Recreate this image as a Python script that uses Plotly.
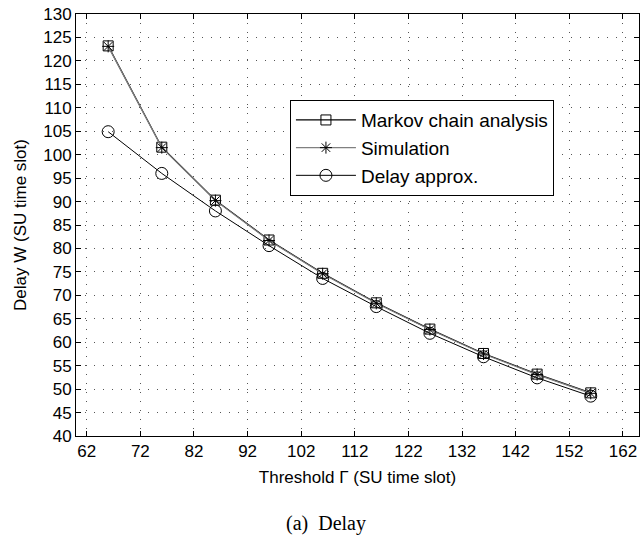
import plotly.graph_objects as go

# Threshold values (SU time slots)
threshold = [66, 76, 86, 96, 106, 116, 126, 136, 146, 156]

# Mean delay W for each method
markov_delay = [123.2, 101.6, 90.3, 81.8, 74.7, 68.4, 62.8, 57.6, 53.2, 49.2]
sim_delay = [123.1, 101.5, 90.2, 81.7, 74.6, 68.3, 62.7, 57.5, 53.1, 49.1]
approx_delay = [104.9, 96.0, 88.0, 80.6, 73.6, 67.6, 61.9, 56.9, 52.4, 48.5]

x_ticks = list(range(62, 163, 10))
y_ticks = list(range(40, 131, 5))

FONT = "Liberation Sans, Arial, sans-serif"

fig = go.Figure()
fig.add_trace(go.Scatter(
    x=threshold, y=markov_delay, name="Markov chain analysis",
    mode="lines+markers",
    line=dict(color="black", width=1.2),
    marker=dict(symbol="square-open", size=10, color="black",
                line=dict(color="black", width=1)),
))
fig.add_trace(go.Scatter(
    x=threshold, y=sim_delay, name="Simulation",
    mode="lines+markers",
    line=dict(color="#808080", width=1.2),
    marker=dict(symbol="asterisk-open", size=10, color="black",
                line=dict(color="black", width=1)),
))
fig.add_trace(go.Scatter(
    x=threshold, y=approx_delay, name="Delay approx.",
    mode="lines+markers",
    line=dict(color="black", width=1),
    marker=dict(symbol="circle-open", size=12, color="black",
                line=dict(color="black", width=1)),
))

axis_common = dict(
    showline=True, linecolor="black", linewidth=1, mirror="ticks",
    ticks="inside", ticklen=5, tickcolor="black", tickwidth=1,
    showgrid=True, gridcolor="#555555", gridwidth=1, griddash="1px,8px",
    zeroline=False,
    tickfont=dict(family=FONT, size=17, color="black"),
)

fig.update_xaxes(
    range=[60, 165], tickvals=x_ticks, ticktext=[str(v) for v in x_ticks],
    title=dict(text="Threshold Γ (SU time slot)", standoff=10,
               font=dict(family=FONT, size=17, color="black")),
    **axis_common,
)
fig.update_yaxes(
    range=[40, 130], tickvals=y_ticks, ticktext=[str(v) for v in y_ticks],
    title=dict(text="Delay W (SU time slot)", standoff=12,
               font=dict(family=FONT, size=17, color="black")),
    **axis_common,
)

fig.update_layout(
    width=642, height=542, autosize=False,
    margin=dict(l=76, r=3, t=14, b=106),
    paper_bgcolor="white", plot_bgcolor="white",
    font=dict(family=FONT, size=17, color="black"),
    legend=dict(
        x=0.38, y=0.796, xanchor="left", yanchor="top",
        bgcolor="white", bordercolor="black", borderwidth=1,
        font=dict(family=FONT, size=19, color="black"),
        itemwidth=60,
    ),
    annotations=[dict(
        text="(a)  Delay", xref="paper", yref="paper",
        x=(326 - 76) / 563, y=-(523 - 436) / 422,
        xanchor="center", yanchor="middle", showarrow=False,
        font=dict(family="Liberation Serif, Times New Roman, serif",
                  size=20, color="black"),
    )],
)

fig.write_html("out.html")
